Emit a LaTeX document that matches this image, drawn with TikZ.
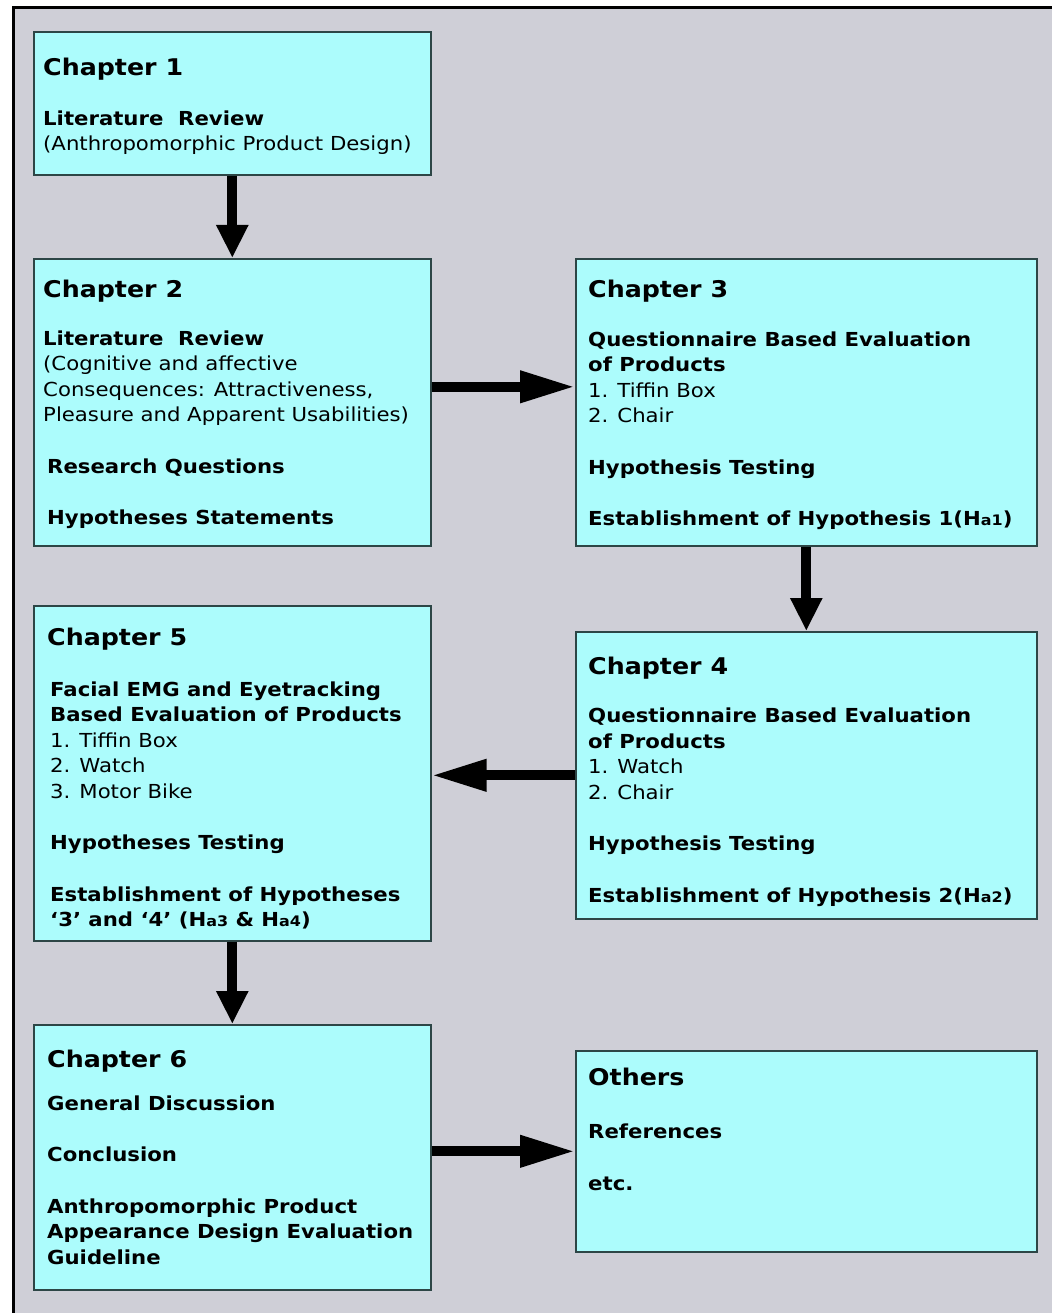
\documentclass[tikz,border=0pt]{standalone}
\usepackage{fontspec}
\setmainfont{DejaVu Sans}[FakeStretch=1.1]
\usetikzlibrary{arrows.meta}
\definecolor{panelgray}{RGB}{207,207,215}
\definecolor{boxcyan}{RGB}{172,252,252}
\definecolor{boxedge}{RGB}{45,70,70}
% chapter heading and the small "a1"-style index of a hypothesis label
\newcommand\hd[1]{{\fontsize{23}{25.5}\selectfont\bfseries #1}}
\newcommand\hsub[1]{{\fontsize{14.5}{14.5}\selectfont #1}}
\newcommand\hstrut{\rule{0pt}{20pt}}
\begin{document}
\begin{tikzpicture}[x=1pt,y=-1pt,
  chapbox/.style={draw=boxedge,line width=1.6pt,fill=boxcyan,rectangle,
    inner sep=0pt,anchor=north west},
  chaptext/.style={anchor=north west,inner sep=0pt,align=left,
    font=\fontsize{19.3}{25.5}\selectfont},
  flowv/.style={line width=10pt,-{Triangle[length=33pt,width=30pt]}},
  flowh/.style={line width=10pt,-{Triangle[length=55pt,width=30pt]}}]

\useasboundingbox (0,0) rectangle (1052,1313);
% panel with its frame on the top and left
\fill[panelgray] (13,8) rectangle (1052,1313);
\draw[line width=3pt] (13,1313) -- (13,8) -- (1052,8);

% boxes
\node[chapbox,minimum width=397pt,minimum height=143pt] (ch1) at (33,31) {};
\node[chapbox,minimum width=397pt,minimum height=287pt] (ch2) at (33,258) {};
\node[chapbox,minimum width=461pt,minimum height=287pt] (ch3) at (575,258) {};
\node[chapbox,minimum width=461pt,minimum height=287pt] (ch4) at (575,631) {};
\node[chapbox,minimum width=397pt,minimum height=335pt] (ch5) at (33,605) {};
\node[chapbox,minimum width=397pt,minimum height=265pt] (ch6) at (33,1024) {};
\node[chapbox,minimum width=461pt,minimum height=201pt] (oth) at (575,1050) {};

% box texts
\node[chaptext] (t1) at (43,55.5) {\hstrut\hd{Chapter 1}\\[24pt]
  \textbf{Literature\ \ Review}\\
  (Anthropomorphic Product Design)};

\node[chaptext] (t2) at (43,277.5) {\hstrut\hd{Chapter 2}\\[22pt]
  \textbf{Literature\ \ Review}\\
  (Cognitive and affective\\
  Consequences: Attractiveness,\\
  Pleasure and Apparent Usabilities)\\[26pt]
  \hspace*{4pt}\textbf{Research Questions}\\[26pt]
  \hspace*{4pt}\textbf{Hypotheses Statements}};

\node[chaptext] (t3) at (588,277.5) {\hstrut\hd{Chapter 3}\\[23pt]
  \textbf{Questionnaire Based Evaluation}\\
  \textbf{of Products}\\
  1. Tiffin Box\\
  2. Chair\\[26pt]
  \textbf{Hypothesis Testing}\\[26pt]
  \textbf{Establishment of Hypothesis 1(H\hsub{a1})}};

\node[chaptext] (t4) at (588,654.5) {\hstrut\hd{Chapter 4}\\[22.5pt]
  \textbf{Questionnaire Based Evaluation}\\
  \textbf{of Products}\\
  1. Watch\\
  2. Chair\\[26pt]
  \textbf{Hypothesis Testing}\\[26pt]
  \textbf{Establishment of Hypothesis 2(H\hsub{a2})}};

\node[chaptext] (t5) at (47,625.5) {\hstrut\hd{Chapter 5}\\[25pt]
  \hspace*{3pt}\textbf{Facial EMG and Eyetracking}\\
  \hspace*{3pt}\textbf{Based Evaluation of Products}\\
  \hspace*{3pt}1. Tiffin Box\\
  \hspace*{3pt}2. Watch\\
  \hspace*{3pt}3. Motor Bike\\[26pt]
  \hspace*{3pt}\textbf{Hypotheses Testing}\\[26pt]
  \hspace*{3pt}\textbf{Establishment of Hypotheses}\\
  \hspace*{3pt}\textbf{‘3’ and ‘4’ (H\hsub{a3} \& H\hsub{a4})}};

\node[chaptext] (t6) at (47,1047.5) {\hstrut\hd{Chapter 6}\\[17pt]
  \textbf{General Discussion}\\[26pt]
  \textbf{Conclusion}\\[26pt]
  \textbf{Anthropomorphic Product}\\
  \textbf{Appearance Design Evaluation}\\
  \textbf{Guideline}};

\node[chaptext] (t7) at (588,1065.5) {\hstrut\hd{Others}\\[27pt]
  \textbf{References}\\[26.5pt]
  \textbf{etc.}};

% flow arrows
\draw[flowv] (ch1.south) -- (ch2.north);
\draw[flowh] ([yshift=15.5pt]ch2.east) -- ([yshift=15.5pt]ch3.west);
\draw[flowv] (ch3.south) -- (ch4.north);
\draw[flowh] (ch4.west) -- (ch5.east |- ch4.west);
\draw[flowv] (ch5.south) -- (ch6.north);
\draw[flowh] (ch6.east |- oth.west) -- (oth.west);
\end{tikzpicture}
\end{document}
